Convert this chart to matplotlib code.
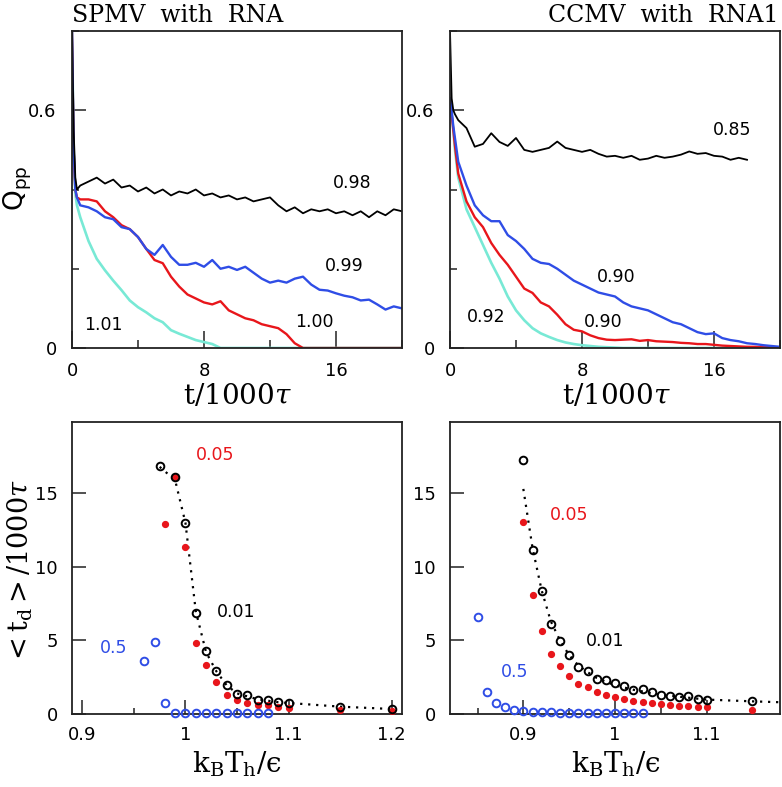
import numpy as np
import matplotlib
matplotlib.use("Agg")
import matplotlib.pyplot as plt
from matplotlib.ticker import MultipleLocator, FuncFormatter

plt.rcParams['mathtext.fontset'] = 'dejavuserif'
plt.rcParams['font.family'] = ['DejaVu Sans']

# ---------------- data: top panels (Q_pp vs t/1000tau) ----------------
t_grid = [0, 0.1, 0.2, 0.3] + [0.5 * k for k in range(1, 41)]

# SPMV with RNA
spmv_098 = [0.80, 0.55, 0.43, 0.40, 0.41, 0.42, 0.43, 0.415, 0.425, 0.405, 0.41, 0.395,
            0.405, 0.39, 0.40, 0.385, 0.395, 0.39, 0.40, 0.385, 0.39, 0.38, 0.385, 0.375,
            0.38, 0.37, 0.375, 0.38, 0.36, 0.345, 0.355, 0.34, 0.35, 0.345, 0.35, 0.34,
            0.345, 0.335, 0.345, 0.33, 0.345, 0.335, 0.35, 0.345]
spmv_099 = [0.80, 0.50, 0.40, 0.38, 0.36, 0.355, 0.345, 0.33, 0.325, 0.305, 0.30, 0.28,
            0.25, 0.235, 0.26, 0.23, 0.21, 0.21, 0.215, 0.205, 0.222, 0.20, 0.205, 0.197,
            0.205, 0.19, 0.175, 0.165, 0.17, 0.165, 0.175, 0.18, 0.16, 0.147, 0.145, 0.138,
            0.132, 0.128, 0.12, 0.122, 0.11, 0.097, 0.105, 0.10]
spmv_100 = [0.80, 0.50, 0.40, 0.38, 0.375, 0.375, 0.37, 0.345, 0.33, 0.31, 0.30, 0.28,
            0.25, 0.222, 0.214, 0.18, 0.155, 0.135, 0.125, 0.115, 0.11, 0.118, 0.095, 0.085,
            0.075, 0.07, 0.06, 0.055, 0.05, 0.035, 0.012, 0.0, 0.0, 0.0, 0.0, 0.0,
            0.0, 0.0, 0.0, 0.0, 0.0, 0.0, 0.0, 0.0]
spmv_101 = [0.80, 0.50, 0.39, 0.36, 0.33, 0.27, 0.225, 0.196, 0.17, 0.146, 0.12, 0.103,
            0.09, 0.075, 0.065, 0.045, 0.036, 0.028, 0.02, 0.015, 0.01, 0.0, 0.0, 0.0,
            0.0, 0.0, 0.0, 0.0, 0.0, 0.0, 0.0, 0.0, 0.0, 0.0, 0.0, 0.0,
            0.0, 0.0, 0.0, 0.0, 0.0, 0.0, 0.0, 0.0]

# CCMV with RNA1
ccmv_085_t = t_grid[:40]
ccmv_085 = [0.80, 0.63, 0.60, 0.59, 0.575, 0.555, 0.508, 0.515, 0.542, 0.52, 0.51, 0.53,
            0.50, 0.495, 0.50, 0.505, 0.521, 0.505, 0.50, 0.495, 0.50, 0.49, 0.483, 0.485,
            0.48, 0.485, 0.475, 0.478, 0.485, 0.48, 0.483, 0.488, 0.496, 0.49, 0.492, 0.485,
            0.483, 0.475, 0.48, 0.475]
ccmv_090b = [0.63, 0.60, 0.56, 0.53, 0.47, 0.41, 0.36, 0.335, 0.32, 0.32, 0.285, 0.27,
             0.25, 0.225, 0.215, 0.212, 0.20, 0.185, 0.17, 0.16, 0.15, 0.14, 0.135, 0.13,
             0.115, 0.105, 0.10, 0.095, 0.085, 0.075, 0.065, 0.06, 0.05, 0.04, 0.035, 0.037,
             0.025, 0.02, 0.017, 0.012, 0.01, 0.007, 0.005, 0.003]
ccmv_090r = [0.63, 0.59, 0.55, 0.51, 0.44, 0.37, 0.33, 0.305, 0.265, 0.235, 0.21, 0.18,
             0.15, 0.139, 0.115, 0.105, 0.084, 0.06, 0.046, 0.042, 0.032, 0.025, 0.021, 0.02,
             0.021, 0.022, 0.018, 0.02, 0.017, 0.016, 0.015, 0.013, 0.012, 0.01, 0.01, 0.008,
             0.006, 0.005, 0.004, 0.003, 0.003, 0.002, 0.002, 0.001]
ccmv_092 = [0.63, 0.59, 0.55, 0.50, 0.43, 0.35, 0.305, 0.26, 0.215, 0.175, 0.13, 0.095,
            0.07, 0.05, 0.037, 0.028, 0.02, 0.014, 0.01, 0.007, 0.005, 0.003, 0.002, 0.001,
            0.0, 0.0, 0.0, 0.0, 0.0, 0.0, 0.0, 0.0, 0.0, 0.0, 0.0, 0.0,
            0.0, 0.0, 0.0, 0.0, 0.0, 0.0, 0.0, 0.0]

# ---------------- data: bottom panels (<t_d>/1000tau vs kBTh/eps) ----------------
spmv_T_001 = [0.975, 0.99, 1.00, 1.01, 1.02, 1.03, 1.04, 1.05, 1.06, 1.07, 1.08, 1.09, 1.10, 1.15, 1.20]
spmv_td_001 = [16.84, 16.09, 12.98, 6.87, 4.26, 2.95, 1.95, 1.38, 1.29, 0.97, 0.95, 0.79, 0.75, 0.48, 0.34]
spmv_T_005 = [0.98, 0.99, 1.00, 1.01, 1.02, 1.03, 1.04, 1.05, 1.06, 1.07, 1.08, 1.09, 1.10, 1.15, 1.20]
spmv_td_005 = [12.94, 16.09, 11.35, 4.85, 3.31, 2.15, 1.31, 0.93, 0.77, 0.63, 0.59, 0.45, 0.41, 0.29, 0.18]
spmv_T_05 = [0.96, 0.97, 0.98, 0.99, 1.00, 1.01, 1.02, 1.03, 1.04, 1.05, 1.06, 1.07, 1.08]
spmv_td_05 = [3.63, 4.89, 0.75, 0.08, 0.08, 0.08, 0.08, 0.08, 0.08, 0.08, 0.08, 0.08, 0.08]
spmv_fit_T = [0.975, 0.99, 1.00, 1.01, 1.02, 1.03, 1.04, 1.05, 1.06, 1.07, 1.08, 1.09, 1.10, 1.15, 1.20]
spmv_fit_td = [16.8, 15.9, 13.0, 7.0, 4.2, 2.9, 1.95, 1.4, 1.2, 1.0, 0.9, 0.8, 0.75, 0.5, 0.34]

ccmv_T_001 = [0.90, 0.91, 0.92, 0.93, 0.94, 0.95, 0.96, 0.97, 0.98, 0.99, 1.00, 1.01, 1.02,
              1.03, 1.04, 1.05, 1.06, 1.07, 1.08, 1.09, 1.10, 1.15]
ccmv_td_001 = [17.29, 11.15, 8.38, 6.12, 4.99, 4.01, 3.20, 2.90, 2.40, 2.31, 2.11, 1.93, 1.63,
               1.70, 1.50, 1.27, 1.20, 1.13, 1.25, 1.04, 0.97, 0.86]
ccmv_T_005 = [0.90, 0.91, 0.92, 0.93, 0.94, 0.95, 0.96, 0.97, 0.98, 0.99, 1.00, 1.01, 1.02,
              1.03, 1.04, 1.05, 1.06, 1.07, 1.08, 1.09, 1.10, 1.15]
ccmv_td_005 = [13.03, 8.09, 5.64, 4.06, 3.24, 2.58, 2.06, 1.84, 1.52, 1.31, 1.13, 1.02, 0.86,
               0.79, 0.73, 0.66, 0.59, 0.57, 0.52, 0.45, 0.45, 0.29]
ccmv_T_05 = [0.85, 0.86, 0.87, 0.88, 0.89, 0.90, 0.91, 0.92, 0.93, 0.94, 0.95, 0.96, 0.97,
             0.98, 0.99, 1.00, 1.01, 1.02, 1.03]
ccmv_td_05 = [6.59, 1.50, 0.77, 0.48, 0.29, 0.20, 0.12, 0.12, 0.12, 0.10, 0.10, 0.10, 0.10,
              0.10, 0.10, 0.10, 0.10, 0.10, 0.10]
ccmv_fit_T = [0.90, 0.91, 0.92, 0.93, 0.94, 0.95, 0.96, 0.97, 0.98, 1.00, 1.02, 1.05, 1.10, 1.15, 1.18]
ccmv_fit_td = [15.3, 11.3, 8.4, 6.3, 5.0, 4.0, 3.3, 2.85, 2.45, 1.95, 1.65, 1.3, 0.98, 0.86, 0.80]

RED = '#e8161b'
BLUE = '#2f4de6'
CYAN = '#78e9d5'
BLK = '#000000'

FW, FH = 782, 787
fig = plt.figure(figsize=(FW / 100, FH / 100), dpi=100)

L1, L2, W = 72 / FW, 450 / FW, 330 / FW
top_ax = [fig.add_axes([L1, 1 - 348 / FH, W, 317 / FH]),
          fig.add_axes([L2, 1 - 348 / FH, W, 317 / FH])]
bot_ax = [fig.add_axes([L1, 1 - 714 / FH, W, 292 / FH]),
          fig.add_axes([L2, 1 - 714 / FH, W, 292 / FH])]

gfmt = FuncFormatter(lambda v, p: ('%g' % round(v, 6)))

for ax in top_ax + bot_ax:
    for s in ax.spines.values():
        s.set_linewidth(1.3)
        s.set_color('#222222')
    ax.tick_params(which='both', direction='in', top=False, right=False,
                   labelsize=13, width=1.1, color='#222222')

for ax in top_ax:
    ax.set_xlim(0, 20)
    ax.set_ylim(0, 0.8)
    ax.xaxis.set_major_locator(MultipleLocator(8))
    ax.xaxis.set_minor_locator(MultipleLocator(4))
    ax.yaxis.set_major_locator(MultipleLocator(0.6))
    ax.yaxis.set_minor_locator(MultipleLocator(0.2))
    ax.xaxis.set_major_formatter(gfmt)
    ax.yaxis.set_major_formatter(gfmt)
    ax.tick_params(axis='x', which='major', length=12, pad=10)
    ax.tick_params(axis='x', which='minor', length=6)
    ax.tick_params(axis='y', which='major', length=10, pad=11)
    ax.tick_params(axis='y', which='minor', length=5)

for ax in bot_ax:
    ax.set_ylim(0, 19.85)
    ax.yaxis.set_major_locator(MultipleLocator(5))
    ax.xaxis.set_major_locator(MultipleLocator(0.1))
    ax.xaxis.set_minor_locator(MultipleLocator(0.05))
    ax.xaxis.set_major_formatter(gfmt)
    ax.yaxis.set_major_formatter(gfmt)
    ax.tick_params(axis='x', which='major', length=10, pad=9)
    ax.tick_params(axis='x', which='minor', length=4.5)
    ax.tick_params(axis='y', which='major', length=10, pad=10)

bot_ax[0].set_xlim(0.89, 1.21)
bot_ax[1].set_xlim(0.82, 1.18)

# ---- top left
ax = top_ax[0]
ax.plot(t_grid, spmv_101, color=CYAN, lw=1.9)
ax.plot(t_grid, spmv_100, color=RED, lw=1.7)
ax.plot(t_grid, spmv_099, color=BLUE, lw=1.7)
ax.plot(t_grid, spmv_098, color=BLK, lw=1.3)
tk = dict(fontsize=12.5, ha='center', va='center')
ax.text(17.0, 0.416, '0.98', **tk)
ax.text(16.5, 0.207, '0.99', **tk)
ax.text(14.7, 0.066, '1.00', **tk)
ax.text(1.9, 0.058, '1.01', **tk)

# ---- top right
ax = top_ax[1]
ax.plot(t_grid, ccmv_092, color=CYAN, lw=1.9)
ax.plot(t_grid, ccmv_090r, color=RED, lw=1.7)
ax.plot(t_grid, ccmv_090b, color=BLUE, lw=1.7)
ax.plot(ccmv_085_t, ccmv_085, color=BLK, lw=1.3)
ax.text(17.1, 0.549, '0.85', **tk)
ax.text(10.1, 0.179, '0.90', **tk)
ax.text(9.3, 0.066, '0.90', **tk)
ax.text(2.2, 0.078, '0.92', **tk)

# ---- bottom panels
def scatter_panel(ax, T1, y1, T5, y5, T05, y05, fT, fy):
    ax.plot(fT, fy, color=BLK, lw=1.6, ls=(0, (1, 2.6)), zorder=2)
    ax.plot(T5, y5, 'o', color=RED, ms=4.2, mec=RED, zorder=3)
    ax.plot(T1, y1, 'o', mfc='none', mec=BLK, mew=1.4, ms=5.5, zorder=4)
    ax.plot(T05, y05, 'o', mfc='none', mec=BLUE, mew=1.4, ms=5.5, zorder=4, clip_on=False)

ax = bot_ax[0]
scatter_panel(ax, spmv_T_001, spmv_td_001, spmv_T_005, spmv_td_005,
              spmv_T_05, spmv_td_05, spmv_fit_T, spmv_fit_td)
ax.text(1.029, 17.6, '0.05', color=RED, **tk)
ax.text(1.049, 6.9, '0.01', color=BLK, **tk)
ax.text(0.930, 4.5, '0.5', color=BLUE, **tk)

ax = bot_ax[1]
scatter_panel(ax, ccmv_T_001, ccmv_td_001, ccmv_T_005, ccmv_td_005,
              ccmv_T_05, ccmv_td_05, ccmv_fit_T, ccmv_fit_td)
ax.text(0.950, 13.55, '0.05', color=RED, **tk)
ax.text(0.989, 4.94, '0.01', color=BLK, **tk)
ax.text(0.891, 2.83, '0.5', color=BLUE, **tk)

# axis labels placed at reference pixel positions
def ftext(x, y, s, **kw):
    fig.text(x / FW, 1 - y / FH, s, **kw)

serif = dict(family='DejaVu Serif', fontsize=20, ha='center', va='center')
ftext(237, 397, r'$\mathregular{t/1000}\tau$', **serif)
ftext(616, 397, r'$\mathregular{t/1000}\tau$', **serif)
ftext(237, 764, '$\\mathregular{k_BT_h/\u03f5}$', **serif)
ftext(616, 764, '$\\mathregular{k_BT_h/\u03f5}$', **serif)
ftext(20, 572, r'$\mathregular{{<}t_d{>}/1000}\tau$', rotation=90,
      family='DejaVu Serif', fontsize=19.5, ha='center', va='center')
ftext(18, 188, r'$\mathregular{Q_{pp}}$', family='DejaVu Sans', fontsize=19,
      rotation=90, ha='center', va='center')

# titles
ftext(72, 22, 'SPMV  with  RNA', family='DejaVu Serif', fontsize=17, ha='left', va='baseline')
ftext(779, 22, 'CCMV  with  RNA1', family='DejaVu Serif', fontsize=17, ha='right', va='baseline')

fig.savefig('out.png', dpi=100)
